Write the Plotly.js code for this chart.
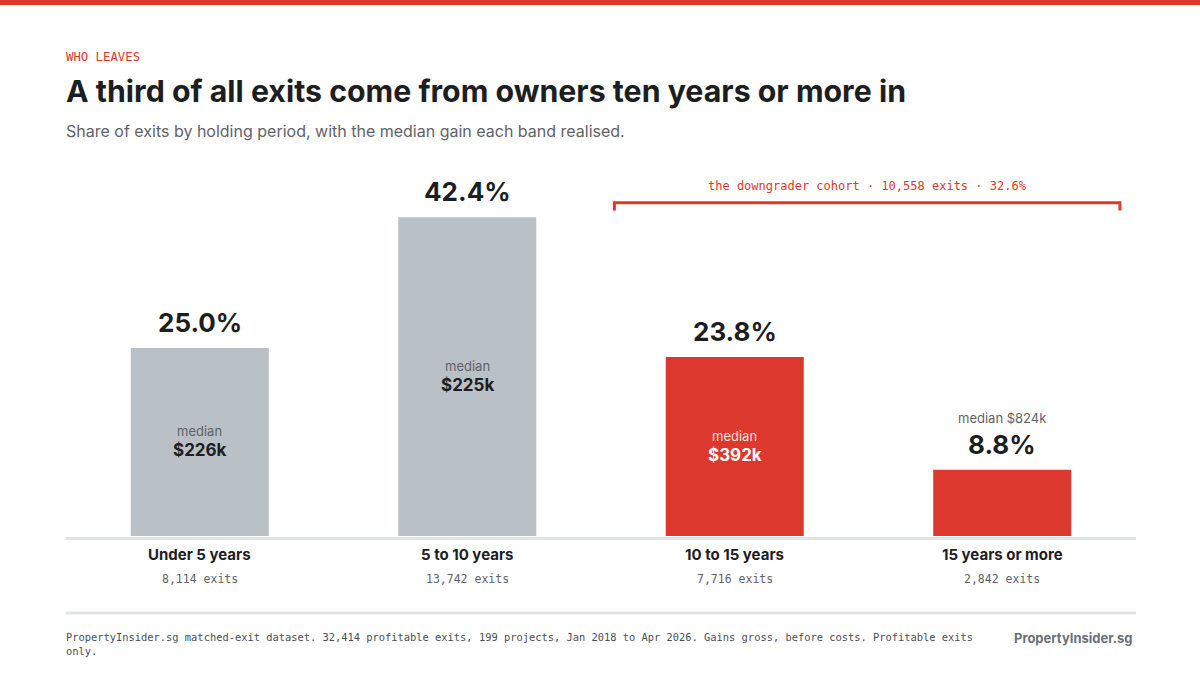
<!DOCTYPE html>
<html>
<head>
<meta charset="utf-8">
<script src="https://cdn.plot.ly/plotly-3.0.1.min.js"></script>
<style>
  html, body { margin: 0; padding: 0; background: #ffffff; }
  #chart { width: 1200px; height: 675px; }
</style>
</head>
<body>
<div id="chart"></div>
<script>
// Holding-period bands and their exit figures
const categories = ["Under 5 years", "5 to 10 years", "10 to 15 years", "15 years or more"];
const sharePct = [25.0, 42.4, 23.8, 8.8];
const exitCounts = ["8,114", "13,742", "7,716", "2,842"];
const medianGain = ["$226k", "$225k", "$392k", "$824k"];
const cohortLabel = "the downgrader cohort · 10,558 exits · 32.6%";

const RED = "#dc382d";
const GREY = "#b9c0c6";
const INK = "#1d1e21";
const MUTED = "#5f6368";
const SANS = "Inter, 'Noto Sans', sans-serif";
const MONO = "'DejaVu Sans Mono', monospace";

const W = 1200, H = 675;
const M = { l: 66, r: 64, t: 160, b: 139 };
const plotW = W - M.l - M.r, plotH = H - M.t - M.b;
const px = x => (x - M.l) / plotW;          // page x -> paper x
const py = y => (H - M.b - y) / plotH;      // page y -> paper y

// The two longest holding bands form the downgrader cohort
const barColors = categories.map((c, i) => i >= 2 ? RED : GREY);

const trace = {
  type: "bar",
  x: categories,
  y: sharePct,
  marker: { color: barColors, line: { width: 0 } },
  hoverinfo: "skip"
};

const annotations = [];

// Header
annotations.push({ xref: "paper", yref: "paper", x: px(66), y: py(57), xanchor: "left", yanchor: "middle", xshift: -2,
  text: "WHO LEAVES", showarrow: false, font: { family: MONO, size: 12.3, color: RED } });
annotations.push({ xref: "paper", yref: "paper", x: px(66), y: py(131), xanchor: "left", yanchor: "middle", xshift: -2,
  text: "Share of exits by holding period, with the median gain each band realised.", showarrow: false,
  font: { family: SANS, size: 16, color: MUTED } });

categories.forEach((cat, i) => {
  const v = sharePct[i];
  const onRed = barColors[i] === RED;
  const smallBar = v < 12;
  // share label above the bar
  annotations.push({ x: cat, y: v, xanchor: "center", yanchor: "bottom", yshift: 8,
    text: "<b>" + v.toFixed(1) + "%</b>", showarrow: false, font: { family: SANS, size: 26, color: INK } });
  if (smallBar) {
    annotations.push({ x: cat, y: v, xanchor: "center", yanchor: "middle", yshift: 52,
      text: "median " + medianGain[i], showarrow: false, font: { family: SANS, size: 13, color: MUTED } });
  } else {
    annotations.push({ x: cat, y: v / 2, xanchor: "center", yanchor: "middle", yshift: 11,
      text: "median", showarrow: false,
      font: { family: SANS, size: 13, color: onRed ? "rgba(255,255,255,0.88)" : MUTED } });
    annotations.push({ x: cat, y: v / 2, xanchor: "center", yanchor: "middle", yshift: -8,
      text: "<b>" + medianGain[i] + "</b>", showarrow: false,
      font: { family: SANS, size: 17, color: onRed ? "#ffffff" : INK } });
  }
  // category labels under the baseline
  annotations.push({ x: cat, yref: "paper", y: py(554), xanchor: "center", yanchor: "middle",
    text: "<b>" + cat + "</b>", showarrow: false, font: { family: SANS, size: 15, color: INK } });
  annotations.push({ x: cat, yref: "paper", y: py(579), xanchor: "center", yanchor: "middle",
    text: exitCounts[i] + " exits", showarrow: false, font: { family: MONO, size: 11.5, color: MUTED } });
});

// Cohort bracket label
const bracketX0 = 1.55, bracketX1 = 3.44, bracketY = 44.3, bracketTip = 43.3;
annotations.push({ x: (bracketX0 + bracketX1) / 2, y: bracketY, xanchor: "center", yanchor: "bottom", yshift: 8,
  text: cohortLabel, showarrow: false, font: { family: MONO, size: 12, color: RED } });

// Footer
annotations.push({ xref: "paper", yref: "paper", x: px(66), y: py(644), xanchor: "left", yanchor: "middle", align: "left", xshift: -2,
  text: "PropertyInsider.sg matched-exit dataset. 32,414 profitable exits, 199 projects, Jan 2018 to Apr 2026. Gains gross, before costs. Profitable exits<br>only.",
  showarrow: false, font: { family: MONO, size: 10.4, color: "#4a4e54" } });
annotations.push({ xref: "paper", yref: "paper", x: px(1135), y: py(638), xanchor: "right", yanchor: "middle",
  text: "<b>PropertyInsider.sg</b>", showarrow: false, font: { family: SANS, size: 13, color: "#6b7078" } });

const shapes = [
  // top accent band
  { type: "rect", xref: "paper", yref: "paper", x0: px(0), x1: px(W), y0: py(5), y1: py(0),
    fillcolor: RED, line: { width: 0 } },
  // baseline just under the bars
  { type: "line", xref: "paper", yref: "paper", x0: 0, x1: 1, y0: py(538.5), y1: py(538.5),
    line: { color: "#e2e3e6", width: 3 } },
  // footer rule
  { type: "line", xref: "paper", yref: "paper", x0: 0, x1: 1, y0: py(613), y1: py(613),
    line: { color: "#e2e3e6", width: 3 } },
  // cohort bracket
  { type: "path", xref: "x", yref: "y",
    path: `M ${bracketX0} ${bracketTip} L ${bracketX0} ${bracketY} L ${bracketX1} ${bracketY} L ${bracketX1} ${bracketTip}`,
    line: { color: RED, width: 3 } }
];

const layout = {
  width: W, height: H,
  margin: M,
  paper_bgcolor: "#ffffff",
  plot_bgcolor: "#ffffff",
  title: { text: "<b>A third of all exits come from owners ten years or more in</b>",
    xref: "container", yref: "container", x: 66 / W, xanchor: "left", y: 1 - 91 / H, yanchor: "middle",
    font: { family: SANS, size: 30.3, color: INK } },
  showlegend: false,
  bargap: 0.484,
  xaxis: { type: "category", showticklabels: false, ticks: "", showgrid: false, zeroline: false, showline: false,
    fixedrange: true },
  yaxis: { range: [0, 50], showticklabels: false, ticks: "", showgrid: false, zeroline: false, showline: false,
    fixedrange: true },
  annotations: annotations,
  shapes: shapes
};

Plotly.newPlot("chart", [trace], layout, { displayModeBar: false, staticPlot: true });
</script>
</body>
</html>
